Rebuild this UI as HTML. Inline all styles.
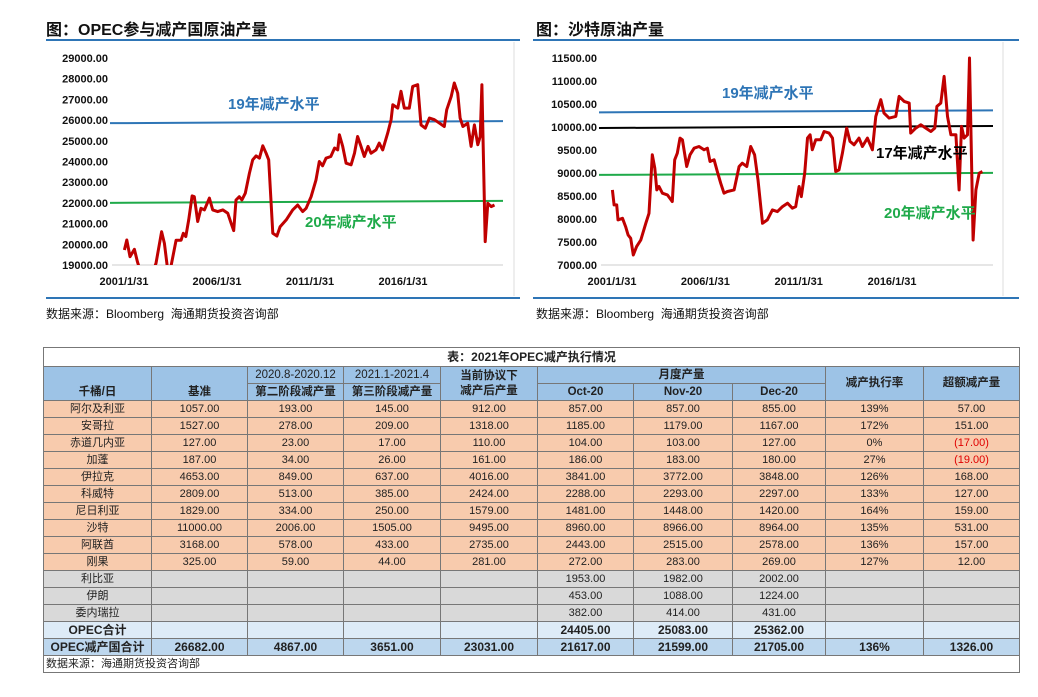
<!DOCTYPE html>
<html><head><meta charset="utf-8">
<style>
body{margin:0;width:1038px;height:697px;background:#fff;position:relative;overflow:hidden;font-family:"Liberation Sans","Noto Sans CJK SC",sans-serif;}
svg{position:absolute;left:0;top:0;}
table{position:absolute;left:43px;top:347px;border-collapse:collapse;table-layout:fixed;font-size:11px;color:#222;}
td{border:1px solid #777;text-align:center;padding:0;height:16px;line-height:15px;white-space:nowrap;overflow:hidden;}
.h td{background:#9dc3e6;font-weight:bold;font-size:11.5px;}
.o td{background:#f8cbad;}
.g td{background:#d9d9d9;}
.s td{background:#ddebf7;font-weight:bold;font-size:12px;}
.t td{background:#bdd7ee;font-weight:bold;font-size:12px;}
.r{color:#e00000;}
</style></head><body>
<svg id="charts" width="1038" height="340">
<text x="46" y="35" font-size="16" font-weight="bold" fill="#111">图：OPEC参与减产国原油产量</text>
<text x="536" y="35" font-size="16" font-weight="bold" fill="#111">图：沙特原油产量</text>
<rect x="46" y="39" width="474" height="2" fill="#2e75b6"/>
<rect x="533" y="39" width="486" height="2" fill="#2e75b6"/>
<rect x="46" y="297" width="474" height="2" fill="#2e75b6"/>
<rect x="533" y="297" width="486" height="2" fill="#2e75b6"/>
<line x1="514" y1="42" x2="514" y2="296" stroke="#ddd"/>
<line x1="1003" y1="42" x2="1003" y2="296" stroke="#ddd"/>
<text x="46" y="318" font-size="12" fill="#111">数据来源：Bloomberg&#160;&#160;海通期货投资咨询部</text>
<text x="536" y="318" font-size="12" fill="#111">数据来源：Bloomberg&#160;&#160;海通期货投资咨询部</text>
<g id="lg"></g><g id="rg"></g>
</svg>

<table>
<colgroup><col style="width:108px"><col style="width:96px"><col style="width:96px"><col style="width:97px"><col style="width:97px"><col style="width:96px"><col style="width:99px"><col style="width:93px"><col style="width:98px"><col style="width:96px"></colgroup>
<tr><td colspan="10" style="height:18px;font-weight:bold;font-size:12px;background:#fff">表：2021年OPEC减产执行情况</td></tr>
<tr class="h"><td rowspan="2" style="vertical-align:bottom">千桶/日</td><td rowspan="2" style="vertical-align:bottom">基准</td><td style="font-weight:normal">2020.8-2020.12</td><td style="font-weight:normal">2021.1-2021.4</td><td rowspan="2">当前协议下<br>减产后产量</td><td colspan="3">月度产量</td><td rowspan="2">减产执行率</td><td rowspan="2">超额减产量</td></tr>
<tr class="h"><td>第二阶段减产量</td><td>第三阶段减产量</td><td>Oct-20</td><td>Nov-20</td><td>Dec-20</td></tr>
<tr class="o"><td>阿尔及利亚</td><td>1057.00</td><td>193.00</td><td>145.00</td><td>912.00</td><td>857.00</td><td>857.00</td><td>855.00</td><td>139%</td><td>57.00</td></tr>
<tr class="o"><td>安哥拉</td><td>1527.00</td><td>278.00</td><td>209.00</td><td>1318.00</td><td>1185.00</td><td>1179.00</td><td>1167.00</td><td>172%</td><td>151.00</td></tr>
<tr class="o"><td>赤道几内亚</td><td>127.00</td><td>23.00</td><td>17.00</td><td>110.00</td><td>104.00</td><td>103.00</td><td>127.00</td><td>0%</td><td class="r">(17.00)</td></tr>
<tr class="o"><td>加蓬</td><td>187.00</td><td>34.00</td><td>26.00</td><td>161.00</td><td>186.00</td><td>183.00</td><td>180.00</td><td>27%</td><td class="r">(19.00)</td></tr>
<tr class="o"><td>伊拉克</td><td>4653.00</td><td>849.00</td><td>637.00</td><td>4016.00</td><td>3841.00</td><td>3772.00</td><td>3848.00</td><td>126%</td><td>168.00</td></tr>
<tr class="o"><td>科威特</td><td>2809.00</td><td>513.00</td><td>385.00</td><td>2424.00</td><td>2288.00</td><td>2293.00</td><td>2297.00</td><td>133%</td><td>127.00</td></tr>
<tr class="o"><td>尼日利亚</td><td>1829.00</td><td>334.00</td><td>250.00</td><td>1579.00</td><td>1481.00</td><td>1448.00</td><td>1420.00</td><td>164%</td><td>159.00</td></tr>
<tr class="o"><td>沙特</td><td>11000.00</td><td>2006.00</td><td>1505.00</td><td>9495.00</td><td>8960.00</td><td>8966.00</td><td>8964.00</td><td>135%</td><td>531.00</td></tr>
<tr class="o"><td>阿联酋</td><td>3168.00</td><td>578.00</td><td>433.00</td><td>2735.00</td><td>2443.00</td><td>2515.00</td><td>2578.00</td><td>136%</td><td>157.00</td></tr>
<tr class="o"><td>刚果</td><td>325.00</td><td>59.00</td><td>44.00</td><td>281.00</td><td>272.00</td><td>283.00</td><td>269.00</td><td>127%</td><td>12.00</td></tr>
<tr class="g"><td>利比亚</td><td></td><td></td><td></td><td></td><td>1953.00</td><td>1982.00</td><td>2002.00</td><td></td><td></td></tr>
<tr class="g"><td>伊朗</td><td></td><td></td><td></td><td></td><td>453.00</td><td>1088.00</td><td>1224.00</td><td></td><td></td></tr>
<tr class="g"><td>委内瑞拉</td><td></td><td></td><td></td><td></td><td>382.00</td><td>414.00</td><td>431.00</td><td></td><td></td></tr>
<tr class="s"><td>OPEC合计</td><td></td><td></td><td></td><td></td><td>24405.00</td><td>25083.00</td><td>25362.00</td><td></td><td></td></tr>
<tr class="t"><td>OPEC减产国合计</td><td>26682.00</td><td>4867.00</td><td>3651.00</td><td>23031.00</td><td>21617.00</td><td>21599.00</td><td>21705.00</td><td>136%</td><td>1326.00</td></tr>
<tr><td colspan="10" style="text-align:left;font-size:11px;background:#fff;padding-left:2px">数据来源：海通期货投资咨询部</td></tr>
</table>

<script>
const leftYears=[2001.1,2001.23,2001.4,2001.64,2001.8,2002.0,2002.6,2002.8,2003.1,2003.25,2003.43,2003.6,2003.88,2004.15,2004.27,2004.4,2004.56,2004.74,2004.86,2005.04,2005.22,2005.4,2005.67,2005.85,2006.12,2006.39,2006.66,2006.84,2006.98,2007.1,2007.28,2007.42,2007.6,2007.82,2008.0,2008.18,2008.36,2008.54,2008.72,2008.86,2009.08,2009.3,2009.47,2009.8,2010.15,2010.42,2010.69,2010.87,2011.14,2011.4,2011.58,2011.76,2011.94,2012.2,2012.4,2012.57,2012.66,2012.84,2013.02,2013.29,2013.47,2013.64,2013.82,2014.0,2014.2,2014.36,2014.63,2014.8,2014.99,2015.26,2015.44,2015.53,2015.8,2015.97,2016.15,2016.42,2016.6,2016.87,2017.05,2017.28,2017.5,2017.77,2018.04,2018.3,2018.43,2018.67,2018.84,2019.02,2019.15,2019.3,2019.56,2019.74,2019.92,2020.1,2020.23,2020.32,2020.5,2020.64,2020.82,2021.0];
const leftValues=[19725,20210,19400,19760,19160,18600,18600,19080,20610,20050,18760,18920,20200,20200,20530,20370,21180,22340,22300,21100,21740,21660,22230,21660,21580,21660,21500,21020,20660,22140,22300,22140,22470,23430,24080,24270,24160,24760,24400,24080,20530,20400,20850,21180,21660,21900,21580,21740,22300,23110,24000,23790,24160,24240,24650,24560,25290,24730,23920,23840,24400,25210,24730,24240,24730,24400,24560,24890,24560,25370,26020,26740,26580,27390,26580,26580,27630,27710,25770,25610,26100,26020,25850,25690,26500,27140,27790,27300,26100,25690,25850,24730,25770,24810,25210,27710,20130,21980,21820,21900];
const leftTicks=[19000,20000,21000,22000,23000,24000,25000,26000,27000,28000,29000];
const leftLevels=[25900,22050];
const rightYears=[2001.1,2001.19,2001.33,2001.4,2001.64,2001.81,2001.94,2002.08,2002.22,2002.4,2002.62,2002.89,2003.06,2003.24,2003.37,2003.48,2003.6,2003.78,2004.05,2004.31,2004.44,2004.58,2004.72,2004.85,2005.08,2005.26,2005.48,2005.74,2006.01,2006.19,2006.33,2006.55,2006.72,2006.9,2007.08,2007.26,2007.62,2007.89,2008.06,2008.3,2008.51,2008.72,2008.9,2009.14,2009.4,2009.67,2009.94,2010.21,2010.48,2010.74,2010.92,2011.1,2011.22,2011.4,2011.55,2011.69,2011.81,2011.99,2012.26,2012.44,2012.71,2012.89,2013.06,2013.24,2013.42,2013.65,2013.83,2014.05,2014.31,2014.49,2014.76,2015.03,2015.21,2015.48,2015.65,2015.92,2016.28,2016.46,2016.73,2017.0,2017.08,2017.35,2017.62,2017.89,2018.16,2018.37,2018.48,2018.69,2018.87,2019.05,2019.23,2019.5,2019.67,2019.8,2019.94,2020.12,2020.23,2020.42,2020.57,2020.75,2020.92];
const rightValues=[8633,8306,8306,7980,8016,7835,7653,7581,7218,7400,7544,7907,8125,9395,9105,8633,8706,8560,8524,8379,9286,9431,9758,9722,9141,9395,9540,9577,9504,9540,9250,9286,9032,8778,8560,8597,8633,9141,9214,9141,9577,9395,8851,7907,7980,8198,8161,8270,8343,8234,8270,8706,8488,8996,9758,9831,9504,9722,9722,9903,9867,9758,9032,9068,9431,9976,9686,9613,9758,9577,9758,9504,10230,10593,10302,10194,10230,10665,10556,10520,9867,9976,10048,9976,9903,9976,10448,10520,11101,10230,9831,9831,8633,10012,9758,9831,11500,7544,8633,8996,9032];
const rightTicks=[7000,7500,8000,8500,9000,9500,10000,10500,11000,11500];
const rightLevels=[10340,10000,8980];
const xTickYears=[2001.08,2006.08,2011.08,2016.08];
const xTickLabels=['2001/1/31','2006/1/31','2011/1/31','2016/1/31'];

const NS='http://www.w3.org/2000/svg';
function mk(tag,attrs,parent,txt){const e=document.createElementNS(NS,tag);for(const k in attrs)e.setAttribute(k,attrs[k]);if(txt!==undefined)e.textContent=txt;parent.appendChild(e);return e;}

function drawChart(g,cfg,years,values,ticks,levels,colors,labels){
  const sx=y=>cfg.x0+(y-2001.08)*cfg.ppy;
  const sy=v=>cfg.yb-(v-cfg.vmin)/(cfg.vmax-cfg.vmin)*(cfg.yb-cfg.yt);
  ticks.forEach(t=>{
    const e=mk('text',{x:cfg.lx,y:sy(t)+4,'text-anchor':'end','font-size':11,'font-weight':'bold',fill:'#111'},g,t.toFixed(2));
    
    
  });
  const ax=mk('line',{x1:cfg.lx+4,y1:cfg.yb,x2:cfg.xe,y2:cfg.yb,stroke:'#ccc'},g);
  
  
  xTickYears.forEach((y,i)=>{
    const e=mk('text',{x:sx(y),y:cfg.yb+20,'text-anchor':'middle','font-size':11,'font-weight':'bold',fill:'#111'},g,xTickLabels[i]);
    
    
  });
  levels.forEach((v,i)=>{
    const l=mk('line',{x1:cfg.lx+2,y1:sy(v)+1,x2:cfg.xe,y2:sy(v)-1,stroke:colors[i],'stroke-width':2},g);
    
    
  });
  const cid='c'+cfg.lx;
  const cp=mk('clipPath',{id:cid},g);
  mk('rect',{x:cfg.lx,y:cfg.yt-10,width:cfg.xe-cfg.lx,height:cfg.yb-cfg.yt+10},cp);
  let d='';
  years.forEach((y,i)=>{d+=(i?'L':'M')+sx(y).toFixed(1)+','+sy(values[i]).toFixed(1);});
  const p=mk('path',{d:d,fill:'none',stroke:'#c00000','stroke-width':3,'stroke-linejoin':'round','clip-path':'url(#'+cid+')'},g);
  
  
  labels.forEach(lb=>{
    const e=mk('text',{x:lb[0],y:lb[1],'font-size':15,'font-weight':'bold',fill:lb[3]},g,lb[2]);
    
    
  });
}
drawChart(document.getElementById('lg'),{x0:124,ppy:18.6,yt:58,yb:265,vmin:19000,vmax:29000,lx:108,xe:503},
  leftYears,leftValues,leftTicks,leftLevels,['#2e75b6','#1faa4a'],
  [[228,109,'19年减产水平','#2e75b6'],[305,227,'20年减产水平','#1faa4a']]);
drawChart(document.getElementById('rg'),{x0:612,ppy:18.67,yt:58,yb:265,vmin:7000,vmax:11500,lx:597,xe:993},
  rightYears,rightValues,rightTicks,rightLevels,['#2e75b6','#000','#1faa4a'],
  [[722,98,'19年减产水平','#2e75b6'],[876,158,'17年减产水平','#000'],[884,218,'20年减产水平','#1faa4a']]);
</script>
</body></html>
